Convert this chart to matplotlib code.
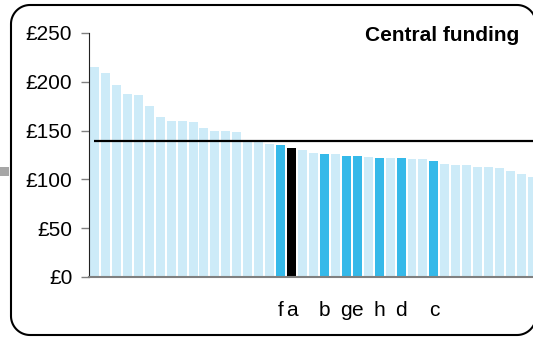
import matplotlib
matplotlib.use("Agg")
import matplotlib.pyplot as plt
from matplotlib.patches import Rectangle
from matplotlib.transforms import IdentityTransform
import numpy as np

plt.rcParams['font.family'] = ['Liberation Sans', 'DejaVu Sans']

# funding per head, sorted high to low
values = [215, 209, 197, 188, 186.5, 175, 164, 160, 160, 159,
          153, 150, 150, 149, 140, 138.5, 136, 135, 132, 130,
          127, 126, 126, 124, 124, 123, 122, 122, 122, 121,
          121, 119, 116, 115, 115, 113, 113, 112, 109, 106, 102.5]
highlight = {17: 'f', 18: 'a', 21: 'b', 23: 'g', 24: 'e', 26: 'h', 28: 'd', 31: 'c'}
black_bar = 18
average = 139.5
yticks = [0, 50, 100, 150, 200, 250]
title = "Central funding"

light = '#cdebf8'
blue = '#35b9e9'

colors = []
for i in range(len(values)):
    if i == black_bar:
        colors.append('black')
    elif i in highlight:
        colors.append(blue)
    else:
        colors.append(light)

fig = plt.figure(figsize=(5.33, 3.38), dpi=100)
ax = fig.add_axes([89/533, 61/338, 444/533, 244/338])

x = np.arange(len(values))
ax.bar(x, values, width=0.82, color=colors, zorder=2)
ax.hlines(average, 0, len(values), color='black', lw=1.6, zorder=3)

ax.set_xlim(-0.5, 40.05)
ax.set_ylim(0, 250)
ax.set_yticks(yticks, ['£%d' % v for v in yticks])

idx = sorted(highlight)
ax.set_xticks(idx, [highlight[i] for i in idx])
ax.tick_params(axis='x', length=0, pad=17, labelsize=15)
ax.tick_params(axis='y', length=6, width=1, color='#808080', pad=6, labelsize=15)

ax.spines['top'].set_visible(False)
ax.spines['right'].set_visible(False)
ax.spines['left'].set_color('#222222')
ax.spines['bottom'].set_color('#808080')
ax.spines['bottom'].set_linewidth(1.5)

ax.text(0.97, 1.03, title, transform=ax.transAxes, ha='right', va='top',
        fontsize=15, fontweight='bold')

# rounded frame round the chart; corners drawn as arcs, right side off the image
px = IdentityTransform()
left, bottom, top, right, r = 11, 3, 333, 536, 19
t = np.linspace(0, np.pi / 2, 30)
fx = np.concatenate([right - r + r * np.cos(t), left + r - r * np.sin(t),
                     left + r - r * np.cos(t), right - r + r * np.sin(t)])
fy = np.concatenate([top - r + r * np.sin(t), top - r + r * np.cos(t),
                     bottom + r - r * np.sin(t), bottom + r - r * np.cos(t)])
fig.add_artist(plt.Line2D(fx, fy, color='black', lw=1.5, transform=px))
fig.patches.append(Rectangle((0, 162), 9, 9, fc='#a6a6a6', ec='none', transform=px))

fig.savefig('out.png', dpi=100)
